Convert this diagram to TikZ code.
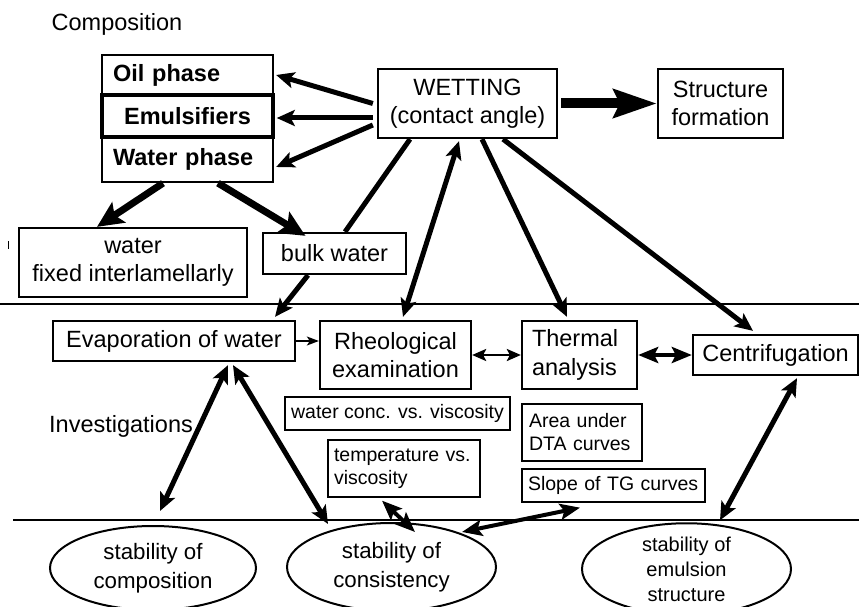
\documentclass[tikz,border=0pt]{standalone}
\usepackage{fontspec}
\setmainfont{Liberation Sans}
\usetikzlibrary{arrows.meta,shapes.geometric}

\newcommand{\bigtext}{\fontsize{23.5}{28.5}\selectfont}
\newcommand{\smalltext}{\fontsize{19.5}{23}\selectfont}
\newcommand{\midtext}{\fontsize{22.3}{29}\selectfont}

\begin{document}
\begin{tikzpicture}[
    x=1pt, y=-1pt,
    box/.style={rectangle, draw, line width=2.3pt, inner sep=0pt, font=\bigtext, align=center},
    note/.style={rectangle, draw, line width=1.3pt, inner sep=0pt, font=\smalltext, align=center},
    blob/.style={ellipse, draw, line width=2pt, inner sep=0pt, font=\midtext, align=center},
    rule/.style={line width=1.2pt},
    plain/.style={line width=5pt},
    fat/.style={line width=5pt, -{Stealth[length=18pt,width=16pt,inset=4pt]}},
    fatboth/.style={line width=5pt, {Stealth[length=18pt,width=16pt,inset=4pt]}-{Stealth[length=18pt,width=16pt,inset=4pt]}},
    heavy/.style={line width=7pt, -{Stealth[length=26pt,width=24pt,inset=5pt]}},
    huge/.style={line width=10pt, -{Stealth[length=43pt,width=28pt,inset=6pt]}},
    thinarrow/.style={line width=1.5pt, -{Stealth[length=12pt,width=9pt,inset=3pt]}},
    slimboth/.style={line width=2.5pt, {Stealth[length=14pt,width=12pt,inset=3pt]}-{Stealth[length=14pt,width=12pt,inset=3pt]}},
    midboth/.style={line width=4pt, {Stealth[length=20pt,width=16pt,inset=4pt]}-{Stealth[length=20pt,width=16pt,inset=4pt]}}
]
    \useasboundingbox (0,0) rectangle (859,607);

    % composition side
    \node[font=\bigtext] (compo) at (117,24) {Composition};
    \node[box, font=\bigtext\bfseries, text width=149pt, align=left, inner xsep=11pt, minimum height=40pt] (oil) at (187.5,75) {Oil phase};
    \node[box, font=\bigtext\bfseries, line width=3.5pt, minimum width=171pt, minimum height=42pt] (emul) at (187.5,116) {Emulsifiers};
    \node[box, font=\bigtext\bfseries, text width=149pt, align=left, inner xsep=11pt, minimum height=45pt] (wpha) at (187.5,159.5) {Water phase};
    \node[box, minimum width=179pt, minimum height=69pt] (wet) at (467.5,103.5) {WETTING\\(contact angle)};
    \node[box, minimum width=125pt, minimum height=69pt] (struct) at (720.5,103.5) {Structure\\formation};
    \node[box, minimum width=228pt, minimum height=69pt] (fixed) at (133,262.5) {water\\fixed interlamellarly};
    \node[box, minimum width=143pt, minimum height=41pt] (bulk) at (334.5,253.5) {bulk water};
    \draw[line width=1pt] (8,241) -- (8,249);

    % investigations
    \node[box, minimum width=242pt, minimum height=40pt] (evap) at (174,341) {Evaporation of water};
    \node[box, minimum width=151pt, minimum height=68pt] (rheo) at (395.5,355) {Rheological\\examination};
    \node[box, text width=95pt, align=left, inner xsep=10pt, minimum height=68pt] (therm) at (579.5,355) {Thermal\\analysis};
    \node[box, minimum width=165pt, minimum height=40pt] (centr) at (775.5,355) {Centrifugation};
    \node[note, minimum width=225pt, minimum height=33pt] (wcv) at (397.5,413.5) {water conc. vs. viscosity};
    \node[note, text width=140pt, align=left, inner xsep=6pt, minimum height=57pt] (tvv) at (404,468.5) {temperature vs.\\viscosity};
    \node[note, text width=106pt, align=left, inner xsep=7pt, minimum height=57pt] (area) at (582,432.5) {Area under\\DTA curves};
    \node[note, text width=171pt, align=left, inner xsep=6pt, minimum height=33pt] (slope) at (613.5,485.5) {Slope of TG curves};
    \node[font=\bigtext] (invest) at (121,426) {Investigations};

    % stability
    \node[blob, minimum width=206pt, minimum height=84pt] (ecomp) at (153,568) {stability of\\composition};
    \node[blob, minimum width=209pt, minimum height=88pt] (econs) at (391.5,567) {stability of\\consistency};
    \node[blob, font=\fontsize{20}{25}\selectfont, minimum width=209pt, minimum height=84pt] (eemul) at (686.5,569) {stability of\\emulsion\\structure};

    \draw[rule] (0,304) -- (859,304);
    \draw[rule] (13,520) -- (859,520);

    \draw[fat] ([xshift=-4pt]wet.west) -- ([xshift=2pt]oil.east);
    \draw[fat] ([xshift=-4pt,yshift=-14.5pt]wet.west) -- ([xshift=2pt,yshift=-2pt]emul.east);
    \draw[fat] ([xshift=-4pt,yshift=-21.5pt]wet.west) -- ([xshift=2pt,yshift=-7.5pt]wpha.east);
    \draw[huge] ([xshift=3pt]wet.east) -- (struct.west);
    \draw[heavy] ([xshift=-24.5pt]wpha.south) -- ([xshift=-36pt]fixed.north);
    \draw[heavy] ([xshift=30.5pt]wpha.south) -- ([xshift=-29pt,yshift=-4pt]bulk.north);
    \draw[plain] ([xshift=-57.5pt]wet.south) -- ([xshift=10.5pt]bulk.north);
    \draw[fat] ([xshift=-26.5pt]bulk.south) -- ([xshift=101pt,yshift=3pt]evap.north);
    \draw[fatboth] ([xshift=-8.5pt,yshift=-2pt]wet.south) -- ([xshift=7.5pt,yshift=3pt]rheo.north);
    \draw[fat] ([xshift=14.5pt]wet.south) -- ([xshift=-12.5pt,yshift=3pt]therm.north);
    \draw[fat] ([xshift=35.5pt]wet.south) -- ([xshift=-22.5pt,yshift=3pt]centr.north);
    \draw[thinarrow] (evap.east) -- (evap.east -| rheo.west);
    \draw[slimboth] (rheo.east) -- (therm.west);
    \draw[midboth] (therm.east) -- (centr.west);
    \draw[fatboth] ([xshift=21.5pt,yshift=-2pt]centr.south) -- ([xshift=33.5pt,yshift=2pt]eemul.north);
    \draw[fatboth] ([xshift=54pt,yshift=-3pt]evap.south) -- ([xshift=7pt,yshift=14pt]ecomp.north);
    \draw[fatboth] ([xshift=59pt,yshift=-3pt]evap.south) -- ([xshift=-63.5pt,yshift=-2pt]econs.north);
    \draw[midboth] ([xshift=-22pt,yshift=-3pt]tvv.south) -- ([xshift=23.5pt,yshift=-10pt]econs.north);
    \draw[midboth] ([xshift=-33.5pt,yshift=-5pt]slope.south) -- ([xshift=70.5pt,yshift=-10pt]econs.north);
\end{tikzpicture}
\end{document}
